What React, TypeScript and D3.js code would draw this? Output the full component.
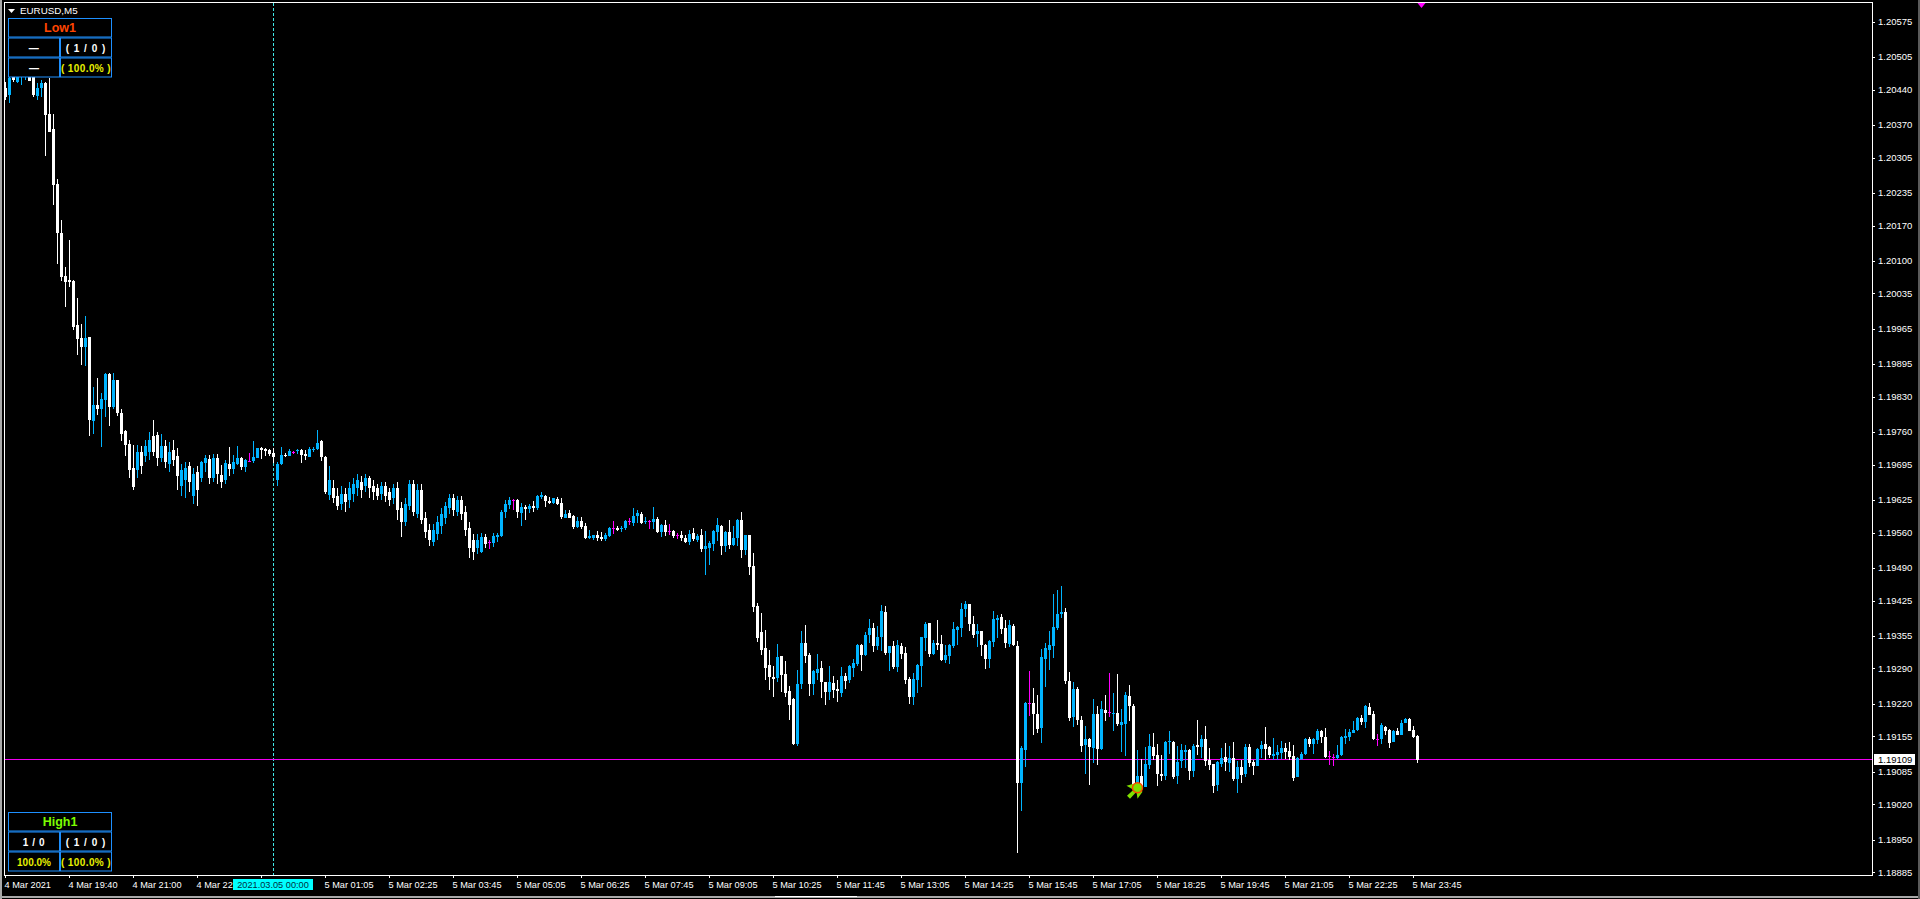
import React from "react";
import * as d3 from "d3";

// All prices are quoted in points: 19109 means 1.19109
const opens = [
  20444,20429,20470,20455,20470,20470,20480,20490,20427,20443,
  20454,20391,20361,20253,20155,20070,20062,20060,19972,19947,
  19929,19949,19782,19813,19805,19823,19875,19809,19863,19798,
  19762,19736,19688,19684,19720,19712,19720,19752,19754,19708,
  19732,19696,19724,19712,19652,19664,19692,19633,19680,19668,
  19699,19707,19668,19709,19674,19664,19697,19687,19697,19709,
  19691,19703,19703,19709,19728,19726,19724,19718,19664,19697,
  19715,19713,19721,19722,19724,19717,19711,19724,19726,19742,
  19711,19635,19649,19633,19617,19637,19625,19637,19649,19661,
  19653,19669,19653,19649,19637,19653,19641,19629,19649,19609,
  19581,19613,19657,19597,19645,19589,19565,19542,19557,19573,
  19589,19609,19629,19601,19625,19601,19569,19545,19530,19521,
  19551,19541,19539,19551,19553,19600,19614,19624,19624,19598,
  19610,19606,19612,19608,19630,19632,19623,19618,19626,19618,
  19589,19598,19593,19571,19583,19573,19549,19549,19555,19551,
  19547,19553,19569,19569,19568,19569,19583,19579,19593,19596,
  19581,19583,19581,19587,19561,19575,19563,19563,19555,19555,
  19549,19541,19559,19545,19555,19527,19529,19537,19561,19573,
  19533,19561,19535,19549,19585,19525,19555,19493,19414,19362,
  19331,19297,19273,19271,19314,19279,19245,19229,19140,19259,
  19340,19316,19259,19281,19291,19263,19243,19261,19249,19241,
  19275,19267,19291,19298,19336,19316,19356,19370,19334,19352,
  19402,19320,19334,19293,19334,19320,19269,19233,19267,19295,
  19350,19380,19318,19340,19338,19306,19314,19334,19366,19370,
  19408,19418,19378,19358,19364,19336,19308,19342,19386,19392,
  19370,19338,19374,19334,19063,19128,19221,19222,19200,19172,
  19309,19327,19335,19370,19398,19402,19265,19194,19250,19188,
  19138,19150,19132,19200,19130,19208,19203,19200,19202,19178,
  19180,19236,19216,19059,19077,19055,19098,19134,19118,19081,
  19077,19144,19144,19077,19106,19124,19128,19087,19138,19134,
  19150,19108,19100,19059,19100,19114,19102,19112,19071,19095,
  19081,19134,19104,19097,19130,19140,19134,19116,19118,19122,
  19132,19126,19116,19075,19110,19120,19150,19140,19148,19166,
  19154,19116,19114,19112,19118,19152,19154,19162,19168,19192,
  19184,19214,19200,19150,19150,19174,19168,19144,19166,19158,
  19182,19190,19168,19156,
];
const closes = [
  20426,20464,20459,20470,20475,20480,20458,20429,20443,20454,
  20389,20355,20251,20156,20068,20058,20058,19969,19945,19929,
  19947,19784,19813,19805,19825,19875,19809,19863,19798,19756,
  19734,19684,19650,19720,19692,19732,19744,19720,19708,19732,
  19700,19720,19704,19672,19684,19688,19660,19676,19645,19700,
  19709,19668,19709,19676,19660,19699,19687,19701,19709,19691,
  19705,19703,19711,19728,19724,19722,19717,19711,19697,19715,
  19714,19722,19721,19724,19715,19713,19726,19726,19738,19711,
  19640,19664,19629,19613,19637,19621,19649,19657,19665,19645,
  19669,19649,19641,19633,19653,19633,19625,19649,19605,19581,
  19617,19657,19601,19645,19585,19561,19545,19565,19581,19597,
  19613,19629,19605,19625,19597,19565,19530,19522,19545,19551,
  19537,19541,19553,19555,19600,19616,19624,19624,19600,19610,
  19606,19612,19608,19632,19634,19622,19618,19628,19616,19591,
  19596,19589,19571,19583,19571,19549,19553,19555,19549,19547,
  19555,19569,19569,19565,19569,19583,19583,19593,19598,19579,
  19582,19583,19587,19561,19575,19561,19563,19553,19555,19549,
  19541,19557,19547,19553,19527,19533,19539,19563,19575,19533,
  19561,19535,19549,19585,19525,19555,19491,19412,19350,19327,
  19291,19273,19269,19312,19277,19241,19217,19140,19259,19340,
  19314,19259,19285,19289,19263,19243,19263,19247,19245,19275,
  19265,19295,19300,19336,19316,19356,19370,19334,19352,19404,
  19320,19334,19293,19336,19318,19267,19233,19269,19297,19352,
  19378,19318,19340,19336,19306,19316,19336,19368,19372,19408,
  19418,19378,19356,19364,19336,19308,19344,19388,19390,19368,
  19340,19376,19336,19063,19132,19222,19221,19200,19170,19313,
  19331,19337,19372,19398,19402,19265,19192,19250,19188,19136,
  19150,19134,19200,19130,19210,19202,19203,19202,19180,19184,
  19238,19216,19059,19077,19055,19100,19136,19116,19081,19077,
  19144,19146,19075,19104,19128,19128,19087,19136,19134,19150,
  19106,19098,19057,19104,19112,19104,19112,19071,19095,19079,
  19134,19102,19097,19130,19138,19130,19118,19120,19124,19132,
  19124,19114,19073,19112,19120,19150,19140,19150,19166,19154,
  19114,19116,19114,19118,19154,19156,19164,19168,19192,19184,
  19216,19198,19150,19150,19178,19166,19142,19166,19158,19182,
  19190,19166,19154,19109,
];
const highs = [
  20455,20475,20480,20480,20480,20485,20485,20495,20454,20459,
  20456,20464,20391,20262,20181,20088,20141,20062,20027,19974,
  19990,19949,19849,19867,19837,19877,19877,19877,19863,19806,
  19764,19744,19734,19734,19732,19744,19760,19784,19760,19756,
  19744,19740,19744,19728,19696,19700,19700,19688,19692,19703,
  19715,19715,19717,19717,19695,19705,19730,19715,19732,19711,
  19707,19718,19742,19729,19730,19728,19726,19728,19701,19730,
  19718,19726,19722,19726,19726,19724,19730,19730,19764,19743,
  19713,19693,19665,19649,19653,19649,19661,19669,19677,19673,
  19677,19673,19665,19657,19661,19661,19649,19657,19661,19621,
  19629,19665,19665,19657,19657,19601,19577,19577,19593,19609,
  19621,19637,19637,19633,19633,19613,19581,19557,19557,19559,
  19557,19545,19559,19559,19604,19624,19630,19627,19626,19618,
  19614,19616,19622,19634,19640,19634,19630,19629,19630,19628,
  19604,19604,19594,19591,19591,19579,19565,19556,19563,19561,
  19559,19571,19583,19573,19573,19584,19589,19608,19604,19600,
  19591,19585,19610,19591,19577,19585,19577,19565,19559,19563,
  19555,19565,19569,19557,19567,19563,19543,19565,19589,19575,
  19563,19585,19573,19587,19600,19556,19556,19519,19420,19400,
  19366,19327,19295,19338,19315,19304,19255,19232,19287,19364,
  19376,19320,19287,19318,19304,19264,19295,19275,19267,19293,
  19281,19296,19308,19338,19338,19362,19388,19380,19374,19416,
  19414,19335,19344,19346,19340,19332,19273,19281,19298,19353,
  19382,19381,19346,19386,19356,19336,19338,19382,19374,19420,
  19424,19419,19394,19378,19365,19338,19346,19404,19396,19398,
  19386,19386,19378,19344,19136,19224,19285,19251,19238,19329,
  19340,19365,19438,19446,19453,19410,19283,19263,19253,19196,
  19176,19151,19230,19216,19226,19238,19281,19242,19279,19210,
  19244,19257,19220,19128,19110,19134,19160,19162,19140,19118,
  19145,19166,19146,19136,19140,19138,19129,19140,19188,19158,
  19176,19132,19101,19106,19132,19142,19136,19144,19106,19108,
  19140,19140,19108,19132,19146,19174,19136,19152,19138,19146,
  19142,19144,19138,19114,19124,19152,19154,19152,19170,19168,
  19172,19126,19120,19138,19155,19170,19170,19186,19194,19198,
  19217,19222,19206,19160,19182,19175,19169,19167,19172,19188,
  19191,19192,19176,19158,
];
const lows = [
  20420,20414,20455,20454,20449,20459,20458,20426,20419,20426,
  20309,20355,20210,20094,20059,20009,20047,19962,19913,19893,
  19890,19752,19755,19794,19730,19790,19772,19805,19792,19742,
  19712,19668,19645,19668,19676,19700,19704,19712,19692,19700,
  19688,19680,19692,19645,19633,19629,19641,19617,19613,19660,
  19680,19656,19660,19656,19648,19656,19672,19676,19695,19685,
  19680,19701,19699,19708,19707,19713,19713,19698,19652,19695,
  19711,19712,19717,19717,19699,19705,19710,19720,19724,19703,
  19636,19625,19619,19605,19605,19601,19609,19621,19633,19629,
  19641,19629,19625,19625,19625,19621,19613,19617,19585,19551,
  19573,19605,19593,19589,19577,19549,19534,19534,19545,19557,
  19577,19597,19593,19593,19585,19553,19510,19506,19518,19519,
  19529,19527,19531,19541,19551,19589,19606,19604,19589,19573,
  19585,19598,19600,19604,19626,19610,19616,19616,19615,19587,
  19588,19588,19567,19569,19567,19548,19548,19545,19543,19543,
  19543,19551,19557,19564,19561,19565,19575,19573,19579,19578,
  19577,19567,19567,19560,19551,19553,19555,19549,19547,19543,
  19539,19535,19543,19541,19521,19475,19495,19523,19543,19515,
  19521,19527,19533,19533,19509,19515,19475,19402,19343,19317,
  19267,19247,19234,19263,19243,19233,19188,19138,19136,19249,
  19300,19235,19237,19267,19231,19217,19227,19231,19223,19233,
  19249,19261,19273,19295,19285,19315,19340,19322,19326,19324,
  19316,19285,19289,19283,19308,19259,19219,19217,19241,19253,
  19324,19312,19316,19326,19304,19300,19298,19330,19336,19352,
  19392,19364,19350,19332,19314,19289,19291,19332,19350,19358,
  19330,19332,19335,18924,19007,19095,19195,19158,19162,19142,
  19253,19287,19311,19367,19390,19259,19186,19174,19178,19124,
  19081,19059,19102,19098,19128,19186,19194,19166,19176,19124,
  19116,19186,19058,19040,19050,19054,19091,19108,19057,19067,
  19069,19120,19071,19061,19093,19093,19069,19075,19118,19112,
  19097,19089,19043,19047,19095,19087,19085,19067,19043,19063,
  19075,19095,19079,19096,19112,19108,19112,19108,19108,19110,
  19110,19108,19067,19074,19108,19118,19134,19120,19140,19142,
  19113,19098,19097,19111,19116,19140,19146,19161,19166,19178,
  19172,19197,19148,19136,19140,19158,19132,19143,19157,19157,
  19181,19165,19152,19102,
];

const priceLabels = [
  "1.20575","1.20505","1.20440","1.20370","1.20305","1.20235","1.20170","1.20100","1.20035",
  "1.19965","1.19895","1.19830","1.19760","1.19695","1.19625","1.19560","1.19490","1.19425",
  "1.19355","1.19290","1.19220","1.19155","1.19085","1.19020","1.18950","1.18885",
];
const timeLabels = [
  "4 Mar 2021","4 Mar 19:40","4 Mar 21:00","4 Mar 22","","5 Mar 01:05","5 Mar 02:25",
  "5 Mar 03:45","5 Mar 05:05","5 Mar 06:25","5 Mar 07:45","5 Mar 09:05","5 Mar 10:25",
  "5 Mar 11:45","5 Mar 13:05","5 Mar 14:25","5 Mar 15:45","5 Mar 17:05","5 Mar 18:25",
  "5 Mar 19:45","5 Mar 21:05","5 Mar 22:25","5 Mar 23:45",
];
const barsPerTimeLabel = 16;
const currentPrice = 19109;
const currentPriceLabel = "1.19109";
const cursorBar = 67;
const cursorLabel = "2021.03.05 00:00";
const signalBar = 283;
const signalPrice = 19053;
const topMarkerBar = 354;

const lowPanel = { title: "Low1", titleColor: "#FF4500", a: "—", b: "( 1 / 0 )", c: "—", d: "( 100.0% )" };
const highPanel = { title: "High1", titleColor: "#7CFC00", a: "1 / 0", b: "( 1 / 0 )", c: "100.0%", d: "( 100.0% )" };

const WHITE = "#ffffff";
const BLUE = "#00B4FF";
const MAGENTA = "#FF00FF";
const FONT = "'Liberation Sans', Arial, sans-serif";

const x = d3.scaleLinear().domain([0, 353]).range([5.5, 1417.5]);
const y = d3.scaleLinear().domain([18885, 20575]).range([872.3, 21.7]);

function Panel({ top, p, dim }: { top: number; p: typeof lowPanel; dim: boolean }) {
  const stroke = "#1E90FF";
  const yellow = "#E8F000";
  const rows = [top + 20, top + 40];
  return (
    <g fontFamily={FONT} textAnchor="middle">
      <rect x={8.5} y={top + 0.5} width={103} height={18.5} fill="#000" stroke={stroke} />
      <rect x={8.5} y={rows[0]} width={51} height={19} fill="#000" stroke={stroke} />
      <rect x={60.5} y={rows[0]} width={51} height={19} fill="#000" stroke={stroke} />
      <rect x={8.5} y={rows[1]} width={51} height={19} fill="#000" stroke={stroke} />
      <rect x={60.5} y={rows[1]} width={51} height={19} fill="#000" stroke={stroke} />
      <text x={60} y={top + 14} fontSize={12.5} fontWeight="bold" fill={p.titleColor}>{p.title}</text>
      <text x={34} y={rows[0] + 13.5} fontSize={10} fontWeight="bold" letterSpacing={0.6} fill="#fff">{p.a}</text>
      <text x={86} y={rows[0] + 13.5} fontSize={10} fontWeight="bold" letterSpacing={1} fill="#fff">{p.b}</text>
      <text x={34} y={rows[1] + 13.5} fontSize={10} fontWeight="bold" fill={dim ? "#fff" : yellow}>{p.c}</text>
      <text x={86} y={rows[1] + 13.5} fontSize={10} fontWeight="bold" letterSpacing={0.4} fill={yellow}>{p.d}</text>
    </g>
  );
}

export default function App() {
  React.useLayoutEffect(() => {
    document.documentElement.style.background = "#000";
    document.body.style.background = "#000";
    document.body.style.overflow = "hidden";
  }, []);

  const sx = x(signalBar);
  const sy = y(signalPrice);
  const topX = x(topMarkerBar);
  const curX = x(cursorBar);
  const lineY = Math.round(y(currentPrice)) - 0.5;

  return (
    <svg width={1920} height={899} viewBox="0 0 1920 899"
      style={{ position: "fixed", left: 0, top: 0, background: "#000", display: "block" }}>
      {/* window edges */}
      <rect x={0} y={0} width={2} height={899} fill="#a8a8a8" />
      <rect x={0} y={896} width={1920} height={2} fill="#a8a8a8" />
      <rect x={775} y={896} width={82} height={1} fill="#ffffff" />
      <rect x={1918} y={0} width={2} height={899} fill="#5a5a5a" />

      {/* behind the candles */}
      <line x1={curX} x2={curX} y1={3} y2={875} stroke="#40E8E8" strokeWidth={1}
        strokeDasharray="3 2" shapeRendering="crispEdges" />
      <line x1={5} x2={1872} y1={lineY} y2={lineY} stroke="#F000F0" strokeWidth={1} shapeRendering="crispEdges" />

      {/* candles */}
      <g shapeRendering="crispEdges">
        {opens.map((o, i) => {
          const c = closes[i];
          const color = c > o ? BLUE : c < o ? WHITE : MAGENTA;
          const cx = x(i);
          const top = Math.round(y(Math.max(o, c)));
          const bot = Math.round(y(Math.min(o, c)));
          const hi = Math.round(y(highs[i]));
          const lo = Math.round(y(lows[i]));
          return (
            <g key={i} fill={color}>
              <rect x={cx - 0.5} y={hi} width={1} height={Math.max(1, lo - hi)} />
              <rect x={cx - 1.5} y={top} width={3} height={Math.max(1, bot - top)} />
            </g>
          );
        })}
      </g>

      {/* signal arrow */}
      <g transform={`translate(${sx},${sy})`}>
        <polygon points="-11,-2 -4,-4 5,4 0,11 -1,4 -7.5,11 -10.5,8 -4,2" fill="#7FE000" />
        <circle r={5} fill="#7CE000" stroke="#FF4500" strokeWidth={1.4} />
      </g>

      {/* top marker */}
      <polygon points={`${topX - 4},3 ${topX + 4},3 ${topX},8`} fill={MAGENTA} />

      {/* frame */}
      <rect x={4.5} y={2.5} width={1868} height={872.5} fill="none" stroke="#fff" strokeWidth={1} shapeRendering="crispEdges" />

      {/* price axis */}
      <g fontFamily={FONT} fontSize={9.5} fill="#fff">
        {priceLabels.map((l) => {
          const ty = y(Math.round((parseFloat(l) - 1) * 1e5));
          return (
            <g key={l}>
              <rect x={1873} y={Math.round(ty)} width={2} height={1} />
              <text x={1878} y={ty + 3.5}>{l}</text>
            </g>
          );
        })}
        <rect x={1874} y={754} width={41} height={11} fill="#fff" />
        <text x={1878} y={y(currentPrice) + 3.3} fill="#000">{currentPriceLabel}</text>
      </g>

      {/* time axis */}
      <g fontFamily={FONT} fontSize={9.2} fill="#fff">
        {timeLabels.map((l, i) => {
          const tx = x(i * barsPerTimeLabel);
          return (
            <g key={i}>
              <rect x={tx - 0.5} y={875} width={1} height={3} />
              {l && <text x={tx - 1} y={887.5}>{l}</text>}
            </g>
          );
        })}
        <rect x={233} y={879} width={80} height={11} fill="#00FFFF" />
        <text x={273} y={887.5} textAnchor="middle" fill="#003040">{cursorLabel}</text>
      </g>

      {/* title */}
      <polygon points="8,9 15,9 11.5,13" fill="#fff" />
      <text x={20} y={14} fontFamily={FONT} fontSize={9.8} fill="#fff">EURUSD,M5</text>

      {/* stat panels */}
      <Panel top={18} p={lowPanel} dim={true} />
      <Panel top={812} p={highPanel} dim={false} />
    </svg>
  );
}
